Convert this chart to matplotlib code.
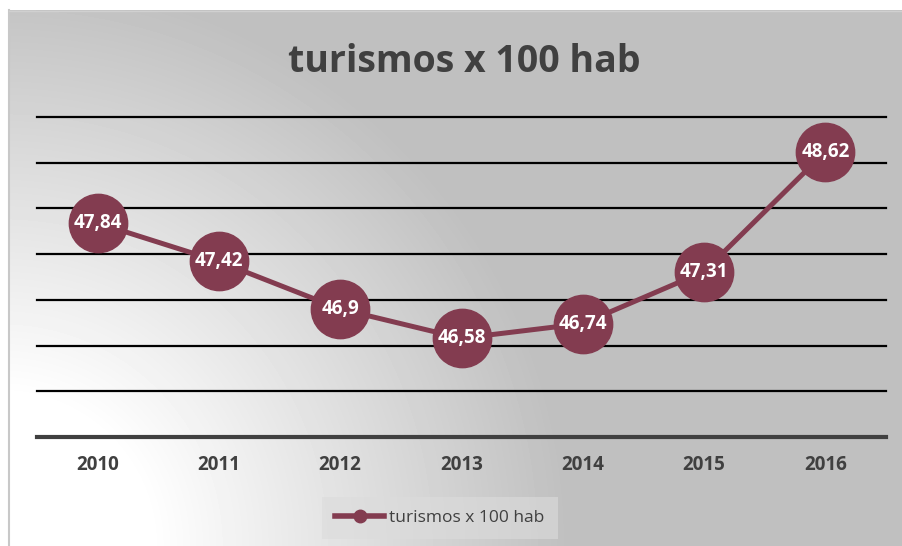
import numpy as np
import matplotlib
matplotlib.use("Agg")
import matplotlib.pyplot as plt

# data
years = ["2010", "2011", "2012", "2013", "2014", "2015", "2016"]
values = [47.84, 47.42, 46.9, 46.58, 46.74, 47.31, 48.62]
labels = ["47,84", "47,42", "46,9", "46,58", "46,74", "47,31", "48,62"]
y_ticks = [45.5, 46.0, 46.5, 47.0, 47.5, 48.0, 48.5, 49.0]

W, H = 903, 546
maroon = "#833c50"
dark = "#404040"
font = "Open Sans"

fig = plt.figure(figsize=(W / 100, H / 100), dpi=100)
fig.patch.set_facecolor("white")

# gradient background (light in bottom-left corner)
bg = fig.add_axes([8 / W, 0, 1 - 8 / W, (H - 10) / H])
gx, gy = np.meshgrid(np.arange(8, W), np.arange(10, H))
d = np.sqrt(gx ** 2 + (H - gy) ** 2)
t = np.clip((d - 150) / 420, 0, 1)
shade = 1.0 - t * (1.0 - 0.75)
bg.imshow(shade, cmap="gray", vmin=0, vmax=1, aspect="auto",
          extent=[0, 1, 0, 1], origin="upper")
bg.set_axis_off()
fig.add_artist(plt.Line2D([9.5 / W, 9.5 / W], [0, (H - 10) / H],
                          color="#c8c8c8", lw=1.5))
fig.add_artist(plt.Line2D([9.5 / W, 1], [(H - 10.5) / H, (H - 10.5) / H],
                          color="#d0d0d0", lw=1))

ax = fig.add_axes([37 / W, (H - 437) / H, (886 - 37) / W, (437 - 117) / H])
ax.patch.set_alpha(0)
x = np.arange(len(years))
ax.set_xlim(-0.5, len(years) - 0.5)
ax.set_ylim(y_ticks[0], y_ticks[-1])

for yv in y_ticks[1:]:
    ax.axhline(yv, color="black", lw=1.6, zorder=1, clip_on=False)
ax.axhline(y_ticks[0], color=dark, lw=3, zorder=1, clip_on=False)

line, = ax.plot(x, values, color=maroon, lw=3.6, marker="o", ms=42,
                zorder=3, clip_on=False, label="turismos x 100 hab")
for xi, yi, lab in zip(x, values, labels):
    ax.text(xi, yi, lab, color="white", fontsize=13.5, fontweight="bold",
            family=font, ha="center", va="center", zorder=4)

for s in ax.spines.values():
    s.set_visible(False)
ax.set_yticks([])
ax.set_xticks(x)
ax.set_xticklabels(years, fontsize=13.5, fontweight="bold", color=dark, family=font)
ax.tick_params(axis="x", length=0, pad=13)

fig.text(464 / W, 1 - 62 / H, "turismos x 100 hab", fontsize=27,
         fontweight="bold", color=dark, family=font, ha="center", va="center")

handle = plt.Line2D([], [], color=maroon, lw=4, marker="o", ms=9)
leg = fig.legend([handle], ["turismos x 100 hab"], loc="center",
                 bbox_to_anchor=(440 / W, 1 - 518 / H), frameon=True,
                 fancybox=False, handlelength=2.8, handletextpad=0.3,
                 borderpad=0.75, borderaxespad=0,
                 prop={"family": font, "size": 12.5})
leg.get_frame().set_facecolor("#dcdcdc")
leg.get_frame().set_alpha(0.6)
leg.get_frame().set_edgecolor("none")
for txt in leg.get_texts():
    txt.set_color(dark)

fig.savefig("out.png", dpi=100)
